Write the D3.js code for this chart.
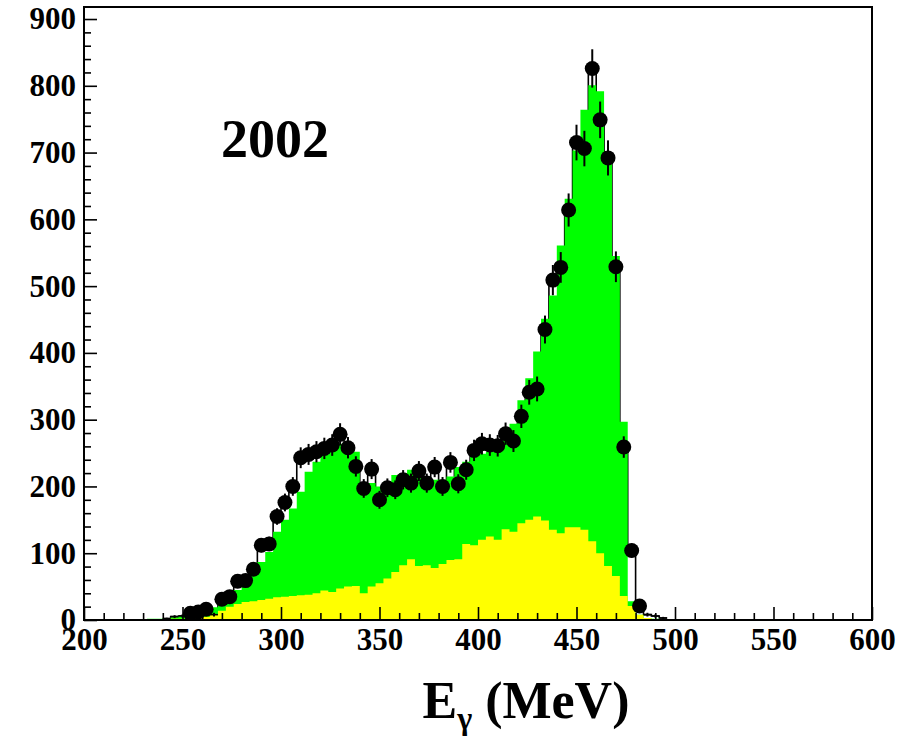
<!DOCTYPE html>
<html>
<head>
<meta charset="utf-8">
<script src="https://cdn.jsdelivr.net/npm/d3@7"></script>
<style>
  html, body { margin: 0; padding: 0; background: #ffffff; }
  svg { display: block; }
  .lbl { font-family: "Liberation Serif", "Times New Roman", serif; font-weight: bold; fill: #000; }
</style>
</head>
<body>
<svg id="chart" width="910" height="737"></svg>
<script>
// Photon energy spectrum, 4 MeV bins starting at 200 MeV
const binStart = 200;
const binWidth = 4;

// Simulated total (green), one entry per bin from 200 to 500 MeV
const totalMC = [
  0, 0, 1, 1, 0, 1, 1, 1, 2, 2,            // 200-240
  3, 4, 6, 8, 10, 14, 19, 25, 31, 45,      // 240-280
  55, 68, 87, 102, 132, 150, 167, 192, 222, 237,   // 280-320
  247, 259, 264, 252, 252, 205, 205, 200, 207, 217, // 320-360
  220, 225, 227, 212, 210, 210, 215, 229, 237, 244, // 360-400
  249, 252, 259, 269, 294, 329, 362, 402, 451, 486, // 400-440
  561, 631, 703, 764, 801, 792, 700, 545, 297, 28,  // 440-480
  8, 3, 2, 1, 0                                     // 480-500
];

// Simulated background component (yellow), same binning
const bgMC = [
  0, 0, 1, 0, 0, 0, 1, 1, 1, 1,
  1, 2, 2, 3, 3, 5, 8, 14, 20, 24,
  27, 28, 30, 32, 34, 35, 36, 37, 38, 40,
  44, 42, 47, 50, 51, 40, 50, 55, 62, 72,
  82, 91, 81, 82, 78, 84, 90, 91, 114, 112,
  120, 125, 120, 136, 132, 145, 150, 155, 149, 135,
  130, 139, 139, 135, 118, 100, 81, 66, 36, 21,
  8, 3, 1, 0, 0
];

// Measured counts drawn with full markers (bin centres in MeV)
const pointE = [
  254, 258, 262, 270, 274, 278, 282, 286, 290, 294,
  298, 302, 306, 310, 314, 318, 322, 326, 330, 334,
  338, 342, 346, 350, 354, 358, 362, 366, 370, 374,
  378, 382, 386, 390, 394, 398, 402, 406, 410, 414,
  418, 422, 426, 430, 434, 438, 442, 446, 450, 454,
  458, 462, 466, 470, 474, 478, 482
];
const pointN = [
  10, 12, 16, 31, 35, 58, 59, 76, 112, 114,
  155, 176, 200, 243, 248, 252, 257, 262, 278, 258,
  230, 197, 226, 180, 198, 195, 210, 205, 223, 205,
  229, 200, 236, 204, 225, 254, 264, 262, 261, 279,
  268, 305, 341, 346, 435, 509, 528, 614, 715, 706,
  826, 749, 692, 529, 259, 104, 21
];
const pointErr = [
  3, 3.5, 4, 5.5, 6, 7.6, 7.7, 8.7, 10.6, 10.7,
  12.4, 13.3, 14, 15.6, 15.7, 15.9, 16, 16.2, 16.7, 16,
  15.2, 14, 15, 13.4, 14, 14, 14.5, 14.3, 15, 14.3,
  15.1, 14.1, 15.4, 14.3, 15, 16, 16.2, 16.2, 16.2, 16.7,
  16.4, 17.5, 18.5, 18.6, 20.9, 22.6, 23, 24.8, 26.7, 26.6,
  28.7, 27.4, 26.3, 23, 16.1, 10.2, 4.6
];

// Low-count bins shown with error bars only
const crossE = [242, 246, 250, 266, 486, 490, 494];
const crossN = [2, 5, 6, 8, 8, 6, 3];
const crossErr = [1.4, 2.2, 2.4, 2.8, 2.8, 2.4, 1.7];

const xMajor = [200, 250, 300, 350, 400, 450, 500, 550, 600];
const yMajor = [0, 100, 200, 300, 400, 500, 600, 700, 800, 900];
const yearLabel = "2002";

// ---- layout ----
const svg = d3.select("#chart");
const frame = { left: 84, right: 872, top: 7, bottom: 620 };
const x = d3.scaleLinear().domain([200, 600]).range([frame.left, frame.right]);
const y = d3.scaleLinear().domain([0, 918]).range([frame.bottom, frame.top]);

svg.append("rect").attr("width", 910).attr("height", 737).attr("fill", "#fff");

svg.append("defs").append("clipPath").attr("id", "plotClip")
  .append("rect")
  .attr("x", frame.left).attr("y", frame.top)
  .attr("width", frame.right - frame.left).attr("height", frame.bottom - frame.top);

const plot = svg.append("g").attr("clip-path", "url(#plotClip)");

// measured spectrum records
const measured = pointE.map((e, i) => ({ e, n: pointN[i], err: pointErr[i], mark: true }))
  .concat(crossE.map((e, i) => ({ e, n: crossN[i], err: crossErr[i], mark: false })))
  .sort((a, b) => a.e - b.e);

// measured spectrum outline goes underneath the simulated fills
const outlinePts = measured.map(d => [d.e - binWidth / 2, d.n]);
const last = measured[measured.length - 1];
outlinePts.push([last.e + binWidth / 2, last.n]);
const outlineLine = d3.line().curve(d3.curveStepAfter).x(d => x(d[0])).y(d => y(d[1]));
plot.append("path")
  .attr("d", outlineLine(outlinePts))
  .attr("fill", "none").attr("stroke", "#000").attr("stroke-width", 1.6);

// step-shaped histogram from per-bin contents
function stepPoints(values) {
  const pts = values.map((v, i) => [binStart + i * binWidth, v]);
  pts.push([binStart + values.length * binWidth, values[values.length - 1]]);
  return pts;
}
const histArea = d3.area()
  .curve(d3.curveStepAfter)
  .x(d => x(d[0]))
  .y0(y(0))
  .y1(d => y(d[1]));

plot.append("path").attr("d", histArea(stepPoints(totalMC))).attr("fill", "#00ff00");
plot.append("path").attr("d", histArea(stepPoints(bgMC))).attr("fill", "#ffff00");

// error bars and markers on top
plot.append("g").selectAll("line").data(measured).join("line")
  .attr("x1", d => x(d.e)).attr("x2", d => x(d.e))
  .attr("y1", d => y(d.n - d.err)).attr("y2", d => y(d.n + d.err))
  .attr("stroke", "#000").attr("stroke-width", 2);

plot.append("g").selectAll("line").data(measured.filter(d => !d.mark)).join("line")
  .attr("x1", d => x(d.e - binWidth / 2)).attr("x2", d => x(d.e + binWidth / 2))
  .attr("y1", d => y(d.n)).attr("y2", d => y(d.n))
  .attr("stroke", "#000").attr("stroke-width", 1.6);

plot.append("g").selectAll("circle").data(measured.filter(d => d.mark)).join("circle")
  .attr("cx", d => x(d.e)).attr("cy", d => y(d.n)).attr("r", 7.5)
  .attr("fill", "#000");

// ---- axes (ticks point into the frame) ----
const xMinor = d3.range(200, 601, 10).filter(v => v % 50 !== 0);
const yMinor = d3.range(0, 918, 20).filter(v => v % 100 !== 0);

const xAxisG = svg.append("g").attr("transform", `translate(0,${frame.bottom})`);
xAxisG.call(d3.axisBottom(x).tickValues(xMinor).tickSize(-7).tickFormat(""));
xAxisG.call(g => g.select(".domain").remove());
const xAxisMajor = svg.append("g").attr("transform", `translate(0,${frame.bottom})`)
  .call(d3.axisBottom(x).tickValues(xMajor).tickSize(-13).tickPadding(8).tickFormat(d3.format("d")));
xAxisMajor.select(".domain").remove();

const yAxisG = svg.append("g").attr("transform", `translate(${frame.left},0)`);
yAxisG.call(d3.axisLeft(y).tickValues(yMinor).tickSize(-7).tickFormat(""));
yAxisG.call(g => g.select(".domain").remove());
const yAxisMajor = svg.append("g").attr("transform", `translate(${frame.left},0)`)
  .call(d3.axisLeft(y).tickValues(yMajor).tickSize(-13).tickPadding(8).tickFormat(d3.format("d")));
yAxisMajor.select(".domain").remove();

svg.selectAll(".tick line").attr("stroke", "#000").attr("stroke-width", 1.6);
[xAxisMajor, yAxisMajor].forEach(g => g.selectAll("text")
  .attr("class", "lbl")
  .style("font-family", '"Liberation Serif", "Times New Roman", serif')
  .style("font-weight", "bold")
  .style("font-size", "31px")
  .attr("fill", "#000"));

// frame
svg.append("rect")
  .attr("x", frame.left).attr("y", frame.top)
  .attr("width", frame.right - frame.left).attr("height", frame.bottom - frame.top)
  .attr("fill", "none").attr("stroke", "#000").attr("stroke-width", 2);

// year label
svg.append("text").attr("class", "lbl")
  .attr("x", 275).attr("y", 157).attr("text-anchor", "middle")
  .style("font-size", "54px")
  .text(yearLabel);

// axis title: E_gamma (MeV)
const title = svg.append("text").attr("class", "lbl")
  .attr("x", 526).attr("y", 718).attr("text-anchor", "middle")
  .style("font-size", "52px");
title.append("tspan").text("E");
title.append("tspan").attr("dy", 11).style("font-size", "32px").text("γ");
title.append("tspan").attr("dy", -11).text(" (MeV)");
</script>
</body>
</html>
